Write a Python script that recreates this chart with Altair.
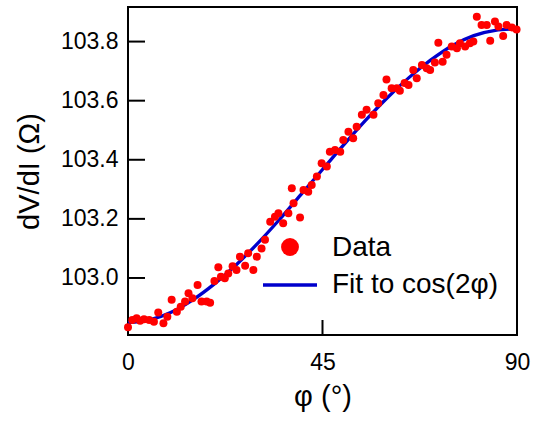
import altair as alt
import pandas as pd

# measured data
phi = [0.0, 1.0, 2.0, 2.8, 3.7, 4.9, 6.0, 7.0, 8.2, 9.1, 10.1, 11.3, 12.2, 13.2, 14.0,
       14.9, 16.1, 17.0, 18.2, 19.0, 20.0, 20.9, 21.5, 22.4, 23.2, 24.2, 25.1, 25.9,
       27.1, 27.8, 29.0, 29.8, 30.9, 31.7, 32.9, 34.0, 34.8, 35.9, 37.1, 37.9, 38.3,
       39.8, 40.6, 41.7, 42.5, 43.7, 44.8, 46.0, 46.7, 47.9, 49.1, 49.8, 51.0, 52.1,
       52.9, 54.1, 55.2, 56.8, 57.9, 59.1, 59.8, 61.0, 62.2, 62.9, 64.0, 64.9, 66.0,
       66.8, 68.0, 69.1, 69.9, 71.0, 71.8, 72.8, 73.7, 74.9, 76.1, 76.8, 78.0, 79.1,
       79.9, 80.7, 81.8, 83.0, 83.8, 84.9, 85.7, 86.8, 87.6, 88.8, 89.9]
dvdi = [102.833, 102.858, 102.864, 102.855, 102.860, 102.858, 102.852, 102.883, 102.847,
        102.869, 102.926, 102.886, 102.903, 102.920, 102.948, 102.931, 102.976, 102.920,
        102.920, 102.916, 102.990, 103.036, 103.004, 102.999, 103.015, 103.040, 103.027,
        103.072, 103.041, 103.084, 103.027, 103.072, 103.100, 103.129, 103.190, 103.207,
        103.219, 103.185, 103.219, 103.304, 103.253, 103.205, 103.298, 103.292, 103.315,
        103.343, 103.388, 103.377, 103.427, 103.433, 103.427, 103.467, 103.495, 103.473,
        103.512, 103.552, 103.569, 103.552, 103.591, 103.619, 103.672, 103.642, 103.642,
        103.634, 103.660, 103.653, 103.704, 103.676, 103.721, 103.710, 103.704, 103.729,
        103.796, 103.732, 103.755, 103.783, 103.777, 103.794, 103.783, 103.794, 103.800,
        103.884, 103.856, 103.856, 103.803, 103.868, 103.851, 103.819, 103.856, 103.848,
        103.841]

# fit curve
fit_phi = [0, 5, 10, 15, 20, 25, 30, 35, 40, 45, 50, 55, 60, 65, 70, 75, 80, 85, 90]
fit_val = [102.849, 102.858, 102.884, 102.926, 102.980, 103.044, 103.117, 103.197,
           103.282, 103.367, 103.452, 103.534, 103.610, 103.678, 103.737, 103.786,
           103.820, 103.838, 103.843]

y_ticks = [103.0, 103.2, 103.4, 103.6, 103.8]
x_ticks = [0, 45, 90]
x_inner_ticks = [45]
legend_labels = ["Data", "Fit to cos(2φ)"]

FONT = "Liberation Sans"
W, H = 389, 328

data_df = pd.DataFrame({"phi": phi, "dvdi": dvdi})
fit_df = pd.DataFrame({"phi": fit_phi, "dvdi": fit_val})
yt_df = pd.DataFrame({"phi": [0] * len(y_ticks), "dvdi": y_ticks})
xt_df = pd.DataFrame({"phi": x_inner_ticks, "dvdi": [103.0] * len(x_inner_ticks)})

xscale = alt.Scale(domain=[0, 90], nice=False, zero=False)
yscale = alt.Scale(domain=[102.807, 103.917], nice=False, zero=False)

xaxis = alt.Axis(values=x_ticks, title="φ (°)", tickSize=0, labelPadding=16,
                 domain=False, grid=False, labelFontSize=23, titleFontSize=29,
                 titlePadding=8, labelFont=FONT, titleFont=FONT, labelColor="black",
                 titleColor="black", titleFontWeight="normal", labelFlush=False)
yaxis = alt.Axis(values=y_ticks, title="dV/dI (Ω)", tickSize=0, labelPadding=10,
                 domain=False, grid=False, labelFontSize=23, titleFontSize=29,
                 titlePadding=16, labelFont=FONT, titleFont=FONT, labelColor="black",
                 titleColor="black", titleFontWeight="normal", format=".1f")

X = alt.X("phi:Q", scale=xscale, axis=xaxis)
Y = alt.Y("dvdi:Q", scale=yscale, axis=yaxis)

points = alt.Chart(data_df).mark_circle(color="#ff0000", opacity=1, size=64).encode(x=X, y=Y)

line = alt.Chart(fit_df).mark_line(color="#0000cc", strokeWidth=3.3,
                                   interpolate="monotone").encode(x=X, y=Y)

yticks = alt.Chart(yt_df).mark_rule(color="black", strokeWidth=2).encode(
    y=Y, x=alt.value(0), x2=alt.value(17),
)
xticks = alt.Chart(xt_df).mark_rule(color="black", strokeWidth=2).encode(
    x=X, y=alt.value(H), y2=alt.value(H - 15),
)

leg_pt = alt.Chart(pd.DataFrame({"label": [legend_labels[0]]})).mark_circle(
    color="#ff0000", opacity=1, size=320).encode(x=alt.value(162), y=alt.value(240))
leg_line = alt.Chart(pd.DataFrame({"label": [legend_labels[1]]})).mark_rule(
    color="#0000cc", strokeWidth=3.3).encode(x=alt.value(135), x2=alt.value(189), y=alt.value(278))
leg_t1 = alt.Chart(pd.DataFrame({"label": [legend_labels[0]]})).mark_text(
    align="left", baseline="middle", fontSize=28, font=FONT, color="black").encode(
    text="label:N", x=alt.value(204), y=alt.value(241))
leg_t2 = alt.Chart(pd.DataFrame({"label": [legend_labels[1]]})).mark_text(
    align="left", baseline="middle", fontSize=28, font=FONT, color="black").encode(
    text="label:N", x=alt.value(204), y=alt.value(278))

chart = alt.layer(line, points, yticks, xticks, leg_pt, leg_line, leg_t1, leg_t2).properties(
    width=W, height=H,
    padding={"left": 128, "top": 7, "right": 18, "bottom": 86},
    autosize="none",
    background="white",
).configure_view(stroke="black", strokeWidth=2)

chart.save("out.html", embed_options={"renderer": "svg", "actions": False})
